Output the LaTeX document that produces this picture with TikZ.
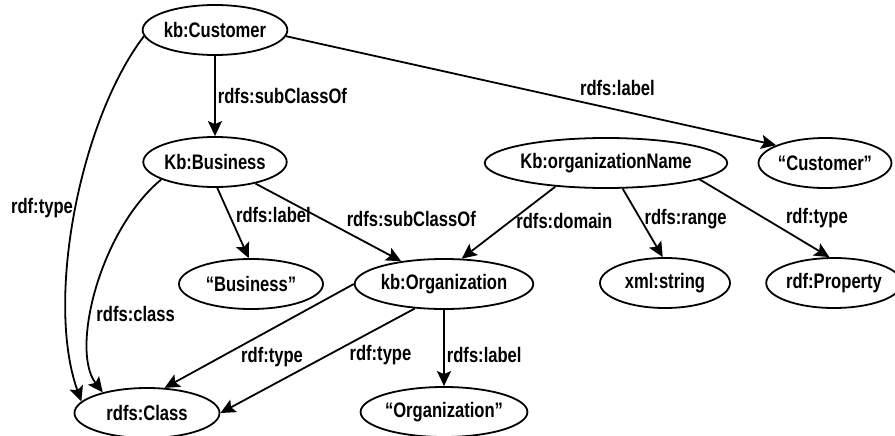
\documentclass[tikz,border=0pt]{standalone}
\usepackage{fontspec}
\setmainfont{Liberation Sans}[FakeStretch=0.79]
\usetikzlibrary{shapes.geometric, arrows.meta}

\tikzstyle{rdfnode}=[ellipse, draw, line width=1.8pt, inner sep=0pt, minimum width=130pt, minimum height=50pt, font=\fontsize{21}{23}\selectfont\bfseries]
\tikzstyle{rdfedge}=[line width=1.8pt, -{Stealth[length=15pt, width=14pt, inset=3pt]}]
\tikzstyle{rdflabel}=[font=\fontsize{21}{23}\selectfont\bfseries, inner sep=2pt]

\begin{document}
\begin{tikzpicture}[x=1pt, y=-1pt]
  \useasboundingbox (0,0) rectangle (895,436);
  \node[rdfnode] (cust) at (215,30) {kb:Customer};
  \node[rdfnode] (bus) at (215,162) {Kb:Business};
  \node[rdfnode, minimum width=144pt] (busl) at (251,284) {“Business”};
  \node[rdfnode] (org) at (444,284) {kb:Organization};
  \node[rdfnode, minimum width=145pt] (cls) at (147,413) {rdfs:Class};
  \node[rdfnode] (orgl) at (444,412) {“Organization”};
  \node[rdfnode] (on) at (606,163) {Kb:organizationName};
  \node[rdfnode] (custl) at (825,163) {“Customer”};
  \node[rdfnode] (xml) at (665,283) {xml:string};
  \node[rdfnode, minimum width=134pt] (prop) at (834,283) {rdf:Property};

  \draw[rdfedge] (cust) -- (bus) node[rdflabel, pos=.5, anchor=west] {rdfs:subClassOf};
  \draw[rdfedge] (cust.-5) -- (custl.160) node[rdflabel, pos=.59, anchor=south west, inner sep=4pt] {rdfs:label};
  \draw[rdfedge] (cust.185) .. controls (80,120) and (45,300) .. (cls.170) node[rdflabel, pos=.49, anchor=east] {rdf:type};
  \draw[rdfedge] (bus.198) .. controls (100,230) and (70,350) .. (cls.155) node[rdflabel, pos=.6, anchor=west, inner sep=4pt] {rdfs:class};
  \draw[rdfedge] (bus.275) -- (busl.95) node[rdflabel, pos=.38, anchor=west, inner sep=6pt] {rdfs:label};
  \draw[rdfedge] (bus) -- (org) node[rdflabel, pos=.6, anchor=south west, inner sep=3pt] {rdfs:subClassOf};
  \draw[rdfedge] (on.205) -- (org.55) node[rdflabel, pos=.48, anchor=west, inner sep=5pt] {rdfs:domain};
  \draw[rdfedge] (on.303) -- (xml.95) node[rdflabel, pos=.45, anchor=west, inner sep=3pt] {rdfs:range};
  \draw[rdfedge] (on.350) -- (prop.100) node[rdflabel, pos=.65, anchor=south west, inner sep=1pt] {rdf:type};
  \draw[rdfedge] (org) -- (orgl) node[rdflabel, pos=.59, anchor=west] {rdfs:label};
  \draw[rdfedge] (org.west) -- (cls.55) node[rdflabel, pos=.6, anchor=north west, inner sep=0pt] {rdf:type};
  \draw[rdfedge] (org.220) -- (cls.east) node[rdflabel, pos=.34, anchor=north west, inner sep=0pt] {rdf:type};
\end{tikzpicture}
\end{document}
